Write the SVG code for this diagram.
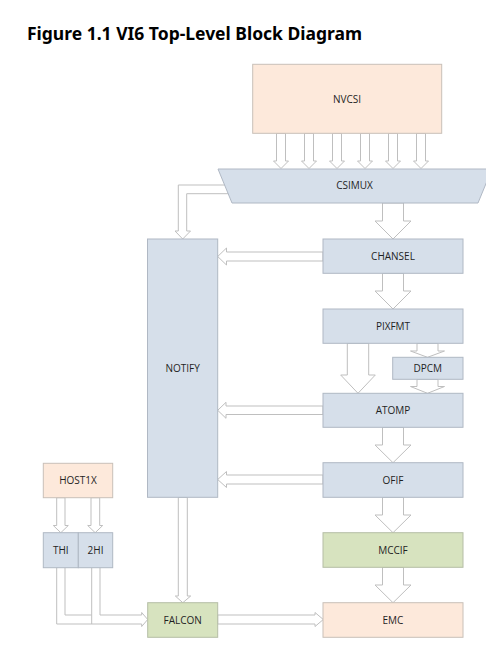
<svg xmlns="http://www.w3.org/2000/svg" width="486" height="653" viewBox="0 0 486 653">
<style>
.bl{fill:#d6dfea;stroke:#b0b8c4;stroke-width:1}
.pc{fill:#fde9db;stroke:#c9c0b8;stroke-width:1}
.gr{fill:#d7e3bf;stroke:#b5bda6;stroke-width:1}
.ar{fill:#ffffff;stroke:#bfbfbf;stroke-width:1;stroke-linejoin:miter}
.ln{fill:none;stroke:#bfbfbf;stroke-width:1}
.t{font-family:"Open Sans","Liberation Sans",sans-serif;font-size:10px;fill:#1f1f1f;text-anchor:middle}
.title{font-family:"Noto Sans","Liberation Sans",sans-serif;font-size:17px;font-weight:bold;fill:#000}
</style>
<rect width="486" height="653" fill="#ffffff"/>
<text class="title" x="27" y="40" textLength="335" lengthAdjust="spacingAndGlyphs">Figure 1.1 VI6 Top-Level Block Diagram</text>
<g id="connectors">
<polygon class="ar" points="276.5,133.3 285.5,133.3 285.5,161 288.5,161 281,168.5 273.5,161 276.5,161"/>
<polygon class="ar" points="304.5,133.3 313.5,133.3 313.5,161 316.5,161 309,168.5 301.5,161 304.5,161"/>
<polygon class="ar" points="332.5,133.3 341.5,133.3 341.5,161 344.5,161 337,168.5 329.5,161 332.5,161"/>
<polygon class="ar" points="360.5,133.3 369.5,133.3 369.5,161 372.5,161 365,168.5 357.5,161 360.5,161"/>
<polygon class="ar" points="388.5,133.3 397.5,133.3 397.5,161 400.5,161 393,168.5 385.5,161 388.5,161"/>
<polygon class="ar" points="416.5,133.3 425.5,133.3 425.5,161 428.5,161 421,168.5 413.5,161 416.5,161"/>
<polygon class="ar" points="382.5,203 403.5,203 403.5,221 411,221 393,239 375,221 382.5,221"/>
<path class="ar" d="M235,185 H178.3 V231 H175 L182.7,239 L190.5,231 H186.7 V193.7 H235"/>
<polygon class="ar" points="323,252 226.5,252 226.5,248 217.7,256.5 226.5,265 226.5,261 323,261"/>
<polygon class="ar" points="382.5,273.3 403.5,273.3 403.5,291 411,291 393,309 375,291 382.5,291"/>
<polygon class="ar" points="347.3,343.3 368.7,343.3 368.7,375 375.3,375 358,393.3 340.7,375 347.3,375"/>
<polygon class="ar" points="417,343.3 438,343.3 438,351 444.5,351 427.5,357.3 410.5,351 417,351"/>
<polygon class="ar" points="417,379.3 438,379.3 438,386.5 444.5,386.5 427.5,393.3 410.5,386.5 417,386.5"/>
<polygon class="ar" points="323,406 226,406 226,402.3 217.7,410.3 226,418.3 226,414.5 323,414.5"/>
<polygon class="ar" points="382.5,427.3 403.5,427.3 403.5,445 411,445 393,462.7 375,445 382.5,445"/>
<polygon class="ar" points="323,475 226.5,475 226.5,471.5 217.7,479.5 226.5,487.5 226.5,484 323,484"/>
<polygon class="ar" points="382.5,497.3 403.5,497.3 403.5,515 411,515 393,532.7 375,515 382.5,515"/>
<polygon class="ar" points="382.5,567.3 403.5,567.3 403.5,585 411,585 393,602.7 375,585 382.5,585"/>
<polygon class="ar" points="178.3,497.3 187.3,497.3 187.3,596 190.7,596 182.8,602.7 175.3,596 178.3,596"/>
<polygon class="ar" points="217.7,615 315,615 315,612.5 323.3,619.5 315,626.5 315,624 217.7,624"/>
<polygon class="ar" points="56.7,497.7 65,497.7 65,525.5 68.3,525.5 60.8,532.7 53.3,525.5 56.7,525.5"/>
<polygon class="ar" points="91,497.7 99.7,497.7 99.7,525.5 102.7,525.5 95.2,532.7 87.7,525.5 91,525.5"/>
<path class="ar" d="M56.7,567.7 V624 H141.7 V626.5 L147.7,619.5 L141.7,612.5 V615 H100 V567.7"/>
<path class="ln" d="M65,567.7 V615 H91.7 M91.7,567.7 V624"/>
</g>
<g id="NVCSI"><rect class="pc" x="252.7" y="64.3" width="189" height="69"/><text class="t" x="347" y="102.5">NVCSI</text></g>
<g id="CSIMUX"><polygon class="bl" points="218,169 492,169 478,203 232,203"/><text class="t" x="354.5" y="189">CSIMUX</text></g>
<g id="NOTIFY"><rect class="bl" x="147.5" y="239" width="70.2" height="258.3"/><text class="t" x="182.6" y="371.5">NOTIFY</text></g>
<g id="CHANSEL"><rect class="bl" x="323" y="239" width="140" height="34.3"/><text class="t" x="393" y="259.8">CHANSEL</text></g>
<g id="PIXFMT"><rect class="bl" x="323" y="309" width="140" height="34.3"/><text class="t" x="393" y="329.8">PIXFMT</text></g>
<g id="DPCM"><rect class="bl" x="392.7" y="357.3" width="70.3" height="22"/><text class="t" x="427.8" y="371.8">DPCM</text></g>
<g id="ATOMP"><rect class="bl" x="323" y="393.3" width="140" height="34"/><text class="t" x="393" y="413.9">ATOMP</text></g>
<g id="OFIF"><rect class="bl" x="323" y="462.7" width="140" height="34.6"/><text class="t" x="393" y="483.6">OFIF</text></g>
<g id="MCCIF"><rect class="gr" x="323" y="532.7" width="140" height="34.6"/><text class="t" x="393" y="553.6">MCCIF</text></g>
<g id="EMC"><rect class="pc" x="323" y="602.7" width="140" height="34.6"/><text class="t" x="393" y="623.6">EMC</text></g>
<g id="FALCON"><rect class="gr" x="147.7" y="602.7" width="70" height="34.6"/><text class="t" x="182.7" y="623.6">FALCON</text></g>
<g id="HOST1X"><rect class="pc" x="43.3" y="463.3" width="69.4" height="34.4"/><text class="t" x="78" y="484">HOST1X</text></g>
<g id="THI"><rect class="bl" x="43.3" y="532.7" width="35" height="35"/><text class="t" x="60.8" y="553.8">THI</text></g>
<g id="2HI"><rect class="bl" x="78.3" y="532.7" width="34.4" height="35"/><text class="t" x="95.5" y="553.8">2HI</text></g>
</svg>
